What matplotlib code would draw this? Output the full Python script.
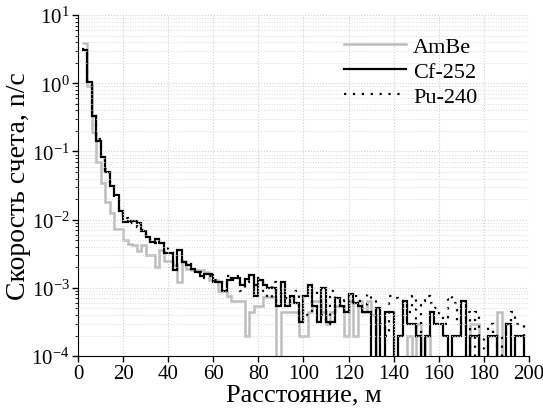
import numpy as np
import matplotlib
matplotlib.use("Agg")
import matplotlib.pyplot as plt
from matplotlib.ticker import LogLocator, FixedLocator

plt.rcParams['font.family'] = ['Liberation Serif', 'DejaVu Serif']
plt.rcParams['mathtext.fontset'] = 'stix'

# bin edges, m
edges = np.arange(2, 202, 2)

# count rate per 2 m bin (0 = empty bin)
ambe = [3.9, 0.9, 0.19, 0.071, 0.034, 0.018, 0.0126, 0.0073, 0.0073, 0.0050,
        0.0044, 0.0042, 0.0035, 0.0042, 0.0030, 0.0030, 0.0020, 0.0036, 0.0025, 0.0025,
        0.0022, 0.0012, 0.0025, 0.0019, 0.0018, 0.0018, 0.0018, 0.0017, 0.0013, 0.0013,
        0.0009, 0.0009, 0.00075, 0.00065, 0.00065, 0.00065, 0.0002, 0.00044, 0.00055, 0.00055,
        0.00073, 0.00073, 0.00073, 0, 0.00044, 0.00044, 0.00044, 0.00044, 0.0002, 0.0002,
        0.00044, 0.00065, 0.00065, 0.00044, 0.0003, 0.00044, 0.00055, 0.00055, 0.0002, 0.00065,
        0.0002, 0.00065, 0.00044, 0.00065, 0.0004, 0, 0, 0, 0, 0,
        0, 0, 0.0002, 0, 0.0003, 0, 0.0002, 0, 0, 0,
        0, 0, 0, 0, 0, 0, 0.0003, 0.0003, 0, 0,
        0, 0, 0.00045, 0, 0, 0, 0, 0, 0]

cf252 = [3.1, 1.05, 0.33, 0.14, 0.082, 0.050, 0.031, 0.023, 0.0135, 0.0093,
         0.0094, 0.0094, 0.0088, 0.0068, 0.0055, 0.0047, 0.0052, 0.0045, 0.0032, 0.0032,
         0.0018, 0.0036, 0.0024, 0.0022, 0.0019, 0.0017, 0.0015, 0.0016, 0.0016, 0.0012,
         0.0012, 0.0009, 0.0013, 0.0014, 0.0014, 0.0011, 0.00135, 0.00155, 0.00075, 0.0013,
         0.0011, 0.0010, 0.0010, 0.00055, 0.0012, 0.00055, 0.00077, 0.0006, 0.00032, 0.00077,
         0.0011, 0.00055, 0.00032, 0.0010, 0.00032, 0.00032, 0.0007, 0.00055, 0.00045, 0.0008,
         0.0006, 0.00055, 0.00045, 0.00045, 0, 0.0005, 0, 0.00045, 0.00045, 0,
         0.0002, 0.00065, 0.0003, 0.0003, 0.0002, 0, 0.0002, 0.00045, 0.0003, 0.0003,
         0.0002, 0, 0.0002, 0.0002, 0.00065, 0, 0.0002, 0.0002, 0, 0,
         0.0002, 0.0002, 0, 0, 0.0003, 0, 0.0002, 0.0002, 0]

pu240 = [3.2, 1.0, 0.33, 0.15, 0.085, 0.055, 0.032, 0.022, 0.014, 0.0105,
         0.0090, 0.0090, 0.0078, 0.0070, 0.0060, 0.0050, 0.0045, 0.0046, 0.0040, 0.0033,
         0.0030, 0.0027, 0.0022, 0.0024, 0.0019, 0.0019, 0.0017, 0.0014, 0.0015, 0.0013,
         0.0012, 0.0011, 0.0015, 0.0013, 0.0015, 0.0009, 0.0012, 0.0014, 0.0011, 0.0014,
         0.0009, 0.0007, 0.0012, 0.0009, 0.0008, 0.0007, 0.0006, 0.0009, 0.0005, 0.0004,
         0.0004, 0.0009, 0.00075, 0.0004, 0.0003, 0.0009, 0.0005, 0.00065, 0.0007, 0.0006,
         0.00075, 0.00065, 0.0005, 0.0008, 0.0007, 0.00045, 0.0003, 0.0002, 0.00075, 0.0007,
         0.00065, 0.0006, 0.00045, 0.00075, 0.0002, 0.00065, 0.00075, 0.0006, 0.0005, 0.0004,
         0.0003, 0.00075, 0.0006, 0.0003, 0.0002, 0.00045, 0, 0.00045, 0.0002, 0,
         0.0003, 0.0002, 0, 0.0002, 0.0003, 0.00045, 0.0003, 0.0003, 0.0002]

labels = ['AmBe', 'Cf-252', 'Pu-240']


def floor0(v):
    # empty bins drop below the axis
    v = np.array(v, dtype=float)
    return np.where(v > 0, v, 1e-6)


fig = plt.figure(figsize=(5.43, 4.10), dpi=100)
ax = fig.add_axes([0.1436, 0.129, 0.8304, 0.832])

ax.stairs(floor0(ambe), edges, color='#bdbdbd', lw=1.8, baseline=None, label=labels[0])
ax.stairs(floor0(pu240), edges, color='black', lw=1.6, ls=(0, (1, 3)), baseline=None, label=labels[2])
ax.stairs(floor0(cf252), edges, color='black', lw=1.6, baseline=None, label=labels[1])

ax.set_yscale('log')
ax.set_xlim(0, 200)
ax.set_ylim(1e-4, 1e1)
ax.xaxis.set_major_locator(FixedLocator(np.arange(0, 201, 20)))
ax.yaxis.set_major_locator(LogLocator(base=10))
ax.yaxis.set_minor_locator(LogLocator(base=10, subs=np.arange(2, 10)))
ax.yaxis.set_minor_formatter(plt.NullFormatter())

ax.grid(True, which='major', color='#d0d0d0', ls=':', lw=0.8)
ax.grid(True, which='minor', axis='y', color='#dcdcdc', ls=':', lw=0.7)

for s in ['top', 'right']:
    ax.spines[s].set_visible(False)
ax.tick_params(labelsize=15, direction='out', length=4, width=1, pad=2)
ax.tick_params(which='minor', length=2.5)

ax.set_xlabel('Расстояние, м', fontsize=19, labelpad=0)
ax.set_ylabel('Скорость счета, n/c', fontsize=20, labelpad=0)

h, l = ax.get_legend_handles_labels()
order = [l.index(x) for x in labels]
ax.legend([h[i] for i in order], [l[i] for i in order], loc='upper right',
          frameon=False, fontsize=16, handlelength=2.8, handletextpad=0.3,
          labelspacing=0.2, bbox_to_anchor=(0.93, 0.995))

fig.savefig('out.png', dpi=100)
